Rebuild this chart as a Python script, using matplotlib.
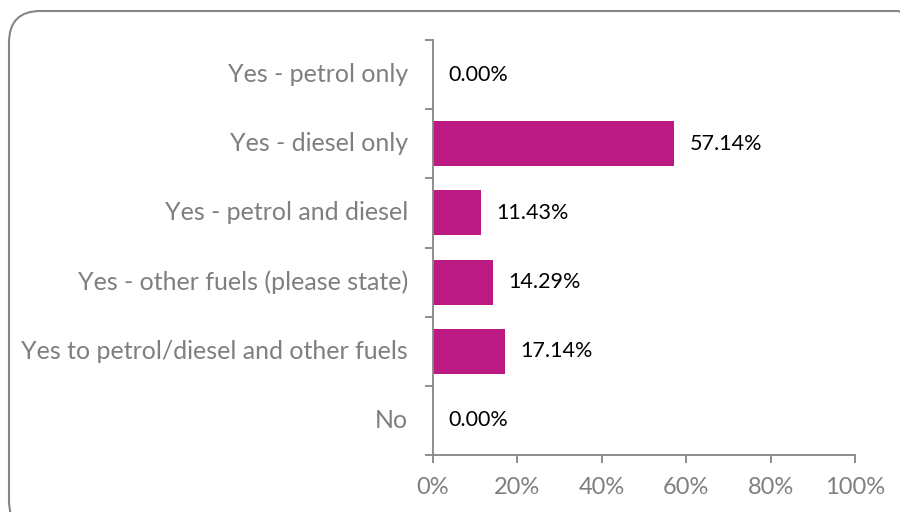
import numpy as np
import matplotlib
matplotlib.use("Agg")
import matplotlib.pyplot as plt
from matplotlib.patches import FancyBboxPatch

# survey answers, top to bottom
categories = [
    "Yes - petrol only",
    "Yes - diesel only",
    "Yes - petrol and diesel",
    "Yes - other fuels (please state)",
    "Yes to petrol/diesel and other fuels",
    "No",
]
shares = [0.00, 57.14, 11.43, 14.29, 17.14, 0.00]
x_ticks = [0, 20, 40, 60, 80, 100]
x_tick_labels = ["0%", "20%", "40%", "60%", "80%", "100%"]

bar_color = "#BA1A82"
grey = "#868686"
label_grey = "#7F7F7F"

plt.rcParams["font.family"] = ["Lato", "DejaVu Sans"]

fig = plt.figure(figsize=(9, 5.12), dpi=100)
W, H = 900, 512

# rounded chart border (runs off the right/bottom edge like the original)
border = FancyBboxPatch((9 / W, -20 / H), 920 / W, (512 - 11 + 20) / H,
                        boxstyle="round,pad=0,rounding_size=0.035",
                        transform=fig.transFigure, fill=False,
                        edgecolor=grey, linewidth=1.5, mutation_aspect=W / H)
fig.patches.append(border)

ax = fig.add_axes([433 / W, 1 - 455 / H, (855 - 433) / W, (455 - 40) / H])

y = np.arange(len(categories))
ax.barh(y, shares, height=0.65, color=bar_color)
ax.set_ylim(len(categories) - 0.5, -0.5)
ax.set_xlim(0, 100)

for yi, v in zip(y, shares):
    ax.annotate(f"{v:.2f}%", (v, yi), xytext=(11, 0), textcoords="offset points",
                va="center", ha="left", fontsize=15.5, color="black")

# category names as text, ticks at category boundaries
ax.set_yticks(np.arange(len(categories) + 1) - 0.5)
ax.set_yticklabels([])
for yi, name in zip(y, categories):
    ax.annotate(name, (0, yi), xycoords=("axes fraction", "data"),
                xytext=(-18, 0), textcoords="offset points",
                ha="right", va="center", fontsize=18, color=label_grey)

ax.set_xticks(x_ticks)
ax.set_xticklabels(x_tick_labels, fontsize=17, color=label_grey)
ax.tick_params(axis="x", direction="out", length=6, width=1.3, color=grey, pad=10)
ax.tick_params(axis="y", direction="out", length=6, width=1.3, color=grey)

for side in ["top", "right"]:
    ax.spines[side].set_visible(False)
for side in ["left", "bottom"]:
    ax.spines[side].set_color(grey)
    ax.spines[side].set_linewidth(1.3)

fig.savefig("out.png", dpi=100)
